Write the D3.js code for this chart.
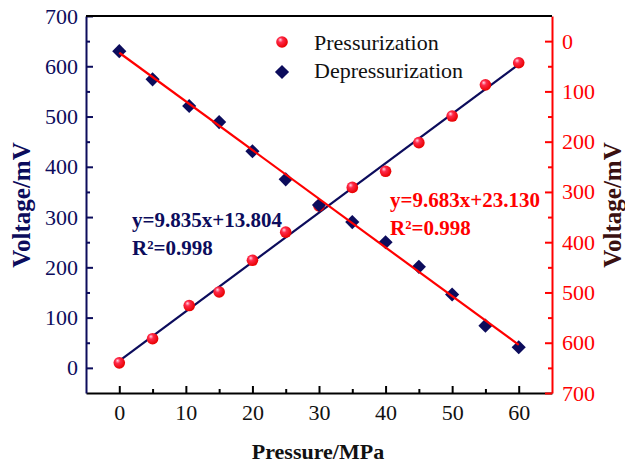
<!DOCTYPE html>
<html>
<head>
<meta charset="utf-8">
<script src="https://cdn.jsdelivr.net/npm/d3@7"></script>
<style>
  body { margin: 0; background: #fff; }
  svg text { font-family: "Liberation Serif", "Times New Roman", serif !important; }
</style>
</head>
<body>
<div class="chart"></div>
<script>
// Chart data
const pressure = [0, 5, 10.5, 15, 20, 25, 30, 35, 40, 45, 50, 55, 60];
const pressVoltage = [10, 58, 124, 151, 214, 270, 322, 359, 391, 448, 501, 563, 607];
const depressVoltage = [20, 76, 129, 161, 219, 275, 326, 360, 400, 449, 504, 566, 609];
const pressFit = { slope: 9.835, intercept: 13.804, r2: '0.998' };
const depressFit = { slope: 9.683, intercept: 23.130, r2: '0.998' };
const xTicks = [0, 10, 20, 30, 40, 50, 60];
const xMinor = [5, 15, 25, 35, 45, 55];
const yTicks = [0, 100, 200, 300, 400, 500, 600, 700];
const yMinor = [50, 150, 250, 350, 450, 550, 650];

const width = 625, height = 465;
const margin = { top: 16, right: 73, bottom: 72, left: 86 };
const navy = '#0c0c5c', red = '#ff0000';

const svg = d3.select('.chart').append('svg')
    .attr('width', width)
    .attr('height', height);

// Scales: left axis for pressurization, reversed right axis for depressurization
const x = d3.scaleLinear().domain([-5, 65]).range([margin.left, width - margin.right]);
const yLeft = d3.scaleLinear().domain([-50, 700]).range([height - margin.bottom, margin.top]);
const yRight = d3.scaleLinear().domain([-50, 700]).range([margin.top, height - margin.bottom]);

// Sphere gradient for the red markers
const grad = svg.append('defs').append('radialGradient')
    .attr('id', 'sphere').attr('cx', '40%').attr('cy', '40%').attr('r', '60%')
    .attr('fx', '35%').attr('fy', '30%');
grad.append('stop').attr('offset', '0%').attr('stop-color', '#ffd6e6');
grad.append('stop').attr('offset', '35%').attr('stop-color', '#ff2a4a');
grad.append('stop').attr('offset', '100%').attr('stop-color', '#e80000');

const bottomY = height - margin.bottom;
const rightX = width - margin.right;

// major + minor ticks, all pointing inward
function styleAxis(g, color) {
    g.selectAll('path, line').attr('stroke', color).attr('stroke-width', 2);
    g.selectAll('text').attr('fill', color).style('font-size', '22px');
}

// bottom axis
const gx = svg.append('g').attr('transform', `translate(0,${bottomY})`)
    .call(d3.axisBottom(x).tickValues(xTicks).tickSize(-7).tickSizeOuter(0).tickPadding(11));
const gxMinor = svg.append('g').attr('transform', `translate(0,${bottomY})`)
    .call(d3.axisBottom(x).tickValues(xMinor).tickSize(-4).tickFormat(''));
gxMinor.select('.domain').remove();
styleAxis(gx, '#000');
styleAxis(gxMinor, '#000');
gx.selectAll('text').attr('fill', '#111');

// left axis
const gl = svg.append('g').attr('transform', `translate(${margin.left},0)`)
    .call(d3.axisLeft(yLeft).tickValues(yTicks).tickSize(-7).tickSizeOuter(0).tickPadding(8));
const glMinor = svg.append('g').attr('transform', `translate(${margin.left},0)`)
    .call(d3.axisLeft(yLeft).tickValues(yMinor).tickSize(-4).tickFormat(''));
glMinor.select('.domain').remove();
styleAxis(gl, navy);
styleAxis(glMinor, navy);

// right axis
const gr = svg.append('g').attr('transform', `translate(${rightX},0)`)
    .call(d3.axisRight(yRight).tickValues(yTicks).tickSize(-7).tickSizeOuter(0).tickPadding(10));
const grMinor = svg.append('g').attr('transform', `translate(${rightX},0)`)
    .call(d3.axisRight(yRight).tickValues(yMinor).tickSize(-4).tickFormat(''));
grMinor.select('.domain').remove();
styleAxis(gr, red);
styleAxis(grMinor, red);

// top frame line
svg.append('line')
    .attr('x1', margin.left).attr('x2', rightX)
    .attr('y1', margin.top).attr('y2', margin.top)
    .attr('stroke', '#000').attr('stroke-width', 2);

// Fit lines
const fitRange = [0, 60];
const lineLeft = d3.line().x(d => x(d)).y(d => yLeft(pressFit.slope * d + pressFit.intercept));
const lineRight = d3.line().x(d => x(d)).y(d => yRight(depressFit.slope * d + depressFit.intercept));

svg.append('path').datum(fitRange).attr('d', lineLeft)
    .attr('stroke', navy).attr('stroke-width', 2.2).attr('fill', 'none');

// Pressurization spheres
svg.selectAll('.press')
    .data(pressure)
    .join('circle')
    .attr('class', 'press')
    .attr('cx', d => x(d))
    .attr('cy', (d, i) => yLeft(pressVoltage[i]))
    .attr('r', 5.8)
    .attr('fill', 'url(#sphere)');

// Depressurization diamonds
const diamond = d3.symbol().type(d3.symbolSquare).size(100);
svg.selectAll('.depress')
    .data(pressure)
    .join('path')
    .attr('class', 'depress')
    .attr('d', diamond)
    .attr('transform', (d, i) => `translate(${x(d)},${yRight(depressVoltage[i])}) rotate(45)`)
    .attr('fill', navy);

svg.append('path').datum(fitRange).attr('d', lineRight)
    .attr('stroke', red).attr('stroke-width', 2.2).attr('fill', 'none');

// Legend
const legend = svg.append('g');
legend.append('circle').attr('cx', 282).attr('cy', 42).attr('r', 5.8).attr('fill', 'url(#sphere)');
legend.append('path').attr('d', diamond).attr('transform', 'translate(282,72) rotate(45)').attr('fill', navy);
legend.append('text').attr('x', 314).attr('y', 50).style('font-size', '22px').attr('fill', '#111').text('Pressurization');
legend.append('text').attr('x', 314).attr('y', 78).style('font-size', '22px').attr('fill', '#111').text('Depressurization');

// Fit annotations
const fmt = d3.format('.3f');
svg.append('text').attr('x', 132).attr('y', 227)
    .style('font-size', '21px').style('font-weight', 'bold').attr('fill', navy)
    .text(`y=${fmt(pressFit.slope)}x+${fmt(pressFit.intercept)}`);
svg.append('text').attr('x', 132).attr('y', 255)
    .style('font-size', '21px').style('font-weight', 'bold').attr('fill', navy)
    .text(`R²=${pressFit.r2}`);
svg.append('text').attr('x', 390).attr('y', 207)
    .style('font-size', '21px').style('font-weight', 'bold').attr('fill', red)
    .text(`y=${fmt(depressFit.slope)}x+${fmt(depressFit.intercept)}`);
svg.append('text').attr('x', 390).attr('y', 235)
    .style('font-size', '21px').style('font-weight', 'bold').attr('fill', red)
    .text(`R²=${depressFit.r2}`);

// Axis titles
svg.append('text').attr('x', 318).attr('y', 459).attr('text-anchor', 'middle')
    .style('font-size', '22px').style('font-weight', 'bold').attr('fill', '#111')
    .text('Pressure/MPa');
svg.append('text').attr('transform', 'translate(30,205) rotate(-90)').attr('text-anchor', 'middle')
    .style('font-size', '25px').style('font-weight', 'bold').attr('fill', navy)
    .text('Voltage/mV');
svg.append('text').attr('transform', 'translate(621,205) rotate(-90)').attr('text-anchor', 'middle')
    .style('font-size', '25px').style('font-weight', 'bold').attr('fill', '#3a1010')
    .text('Voltage/mV');
</script>
</body>
</html>
